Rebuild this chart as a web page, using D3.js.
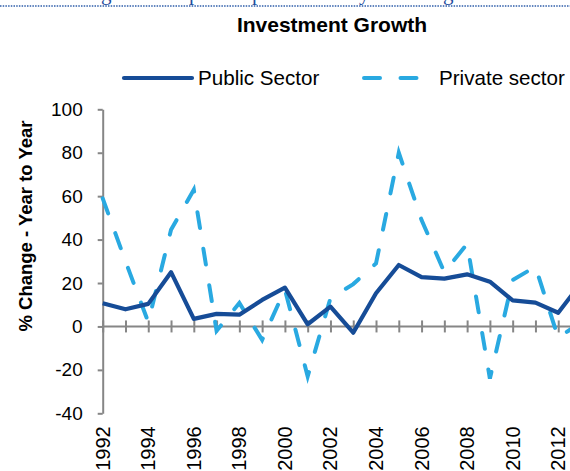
<!DOCTYPE html>
<html>
<head>
<meta charset="utf-8">
<style>
  body { margin: 0; background: #fff; }
  svg { display: block; font-family: "Liberation Sans", Arial, sans-serif; }
  .axis .domain { stroke: #868686; stroke-width: 2; }
  .axis line { stroke: #868686; stroke-width: 2; }
  .axis text { fill: #000; font-size: 19px; }
</style>
</head>
<body>
<svg width="570" height="471"></svg>
<script src="https://d3js.org/d3.v7.min.js"></script>
<script>
// values (% change, year on year)
var years = d3.range(1992, 2014);
var publicSector = [10.7, 7.9, 10.4, 25, 3.5, 5.8, 5.4, 12.2, 17.9, 1, 9.1, -2.9,
                    15.3, 28.3, 22.7, 22, 24, 20.6, 12, 11, 6.3, 20];
var privateSector = [59, 30, 2, 44.5, 63, -2, 10.8, -6.2, 17, -23, 13, 19.5,
                     29, 80, 49, 25, 38, -24, 21.4, 27.5, -5.3, 2];
var yTicks = [-40, -20, 0, 20, 40, 60, 80, 100];
var xLabelYears = d3.range(1992, 2014, 2);
var seriesNames = ["Public Sector", "Private sector"];

var svg = d3.select("svg");

// cut-off heading from the page above the chart
svg.append("line")
    .attr("x1", 0).attr("x2", 570).attr("y1", 6).attr("y2", 6)
    .attr("stroke", "#2f5ea9").attr("stroke-width", 1.5)
    .attr("stroke-dasharray", "1.5,1.2");
var frag = svg.append("g")
    .attr("font-family", "Liberation Serif, serif")
    .attr("font-size", 21)
    .attr("fill", "#1f4e9e");
[["g", 101], ["p", 189], ["p", 252], ["y", 359], ["g", 443]].forEach(function(f) {
  frag.append("text").attr("x", f[1]).attr("y", 0).text(f[0]);
});

var x = d3.scaleLinear()
    .domain([1992, 2013])
    .range([102.7, 581]);

var y = d3.scaleLinear()
    .domain([-40, 100])
    .range([413.3, 109.3]);

// title
svg.append("text")
    .attr("x", 332).attr("y", 32)
    .attr("text-anchor", "middle")
    .attr("font-size", 21)
    .attr("font-weight", "bold")
    .text("Investment Growth");

// y axis
svg.append("g")
    .attr("class", "axis")
    .attr("transform", "translate(" + x(1992) + ",0)")
    .call(d3.axisLeft(y).tickValues(yTicks).tickSize(5).tickSizeOuter(0).tickPadding(15)
      .tickFormat(function(d) { return String(d); }));

// x axis along zero
var xAxis = svg.append("g")
    .attr("class", "axis")
    .attr("transform", "translate(0," + y(0) + ")")
    .call(d3.axisBottom(x).tickValues(years).tickSize(6).tickSizeOuter(0).tickFormat(""));
xAxis.select(".domain").attr("d", "M" + x(1992) + ",0H" + x(2013.5));
xAxis.selectAll(".tick line").attr("y1", -6);

// x labels at bottom, rotated
svg.append("g")
    .attr("font-size", 20)
    .selectAll("text")
    .data(xLabelYears)
    .enter().append("text")
      .attr("transform", function(d) { return "translate(" + x(d) + "," + (y(-40) + 13) + ") rotate(-90)"; })
      .attr("text-anchor", "end")
      .attr("dy", "0.35em")
      .text(function(d) { return d; });

// y label
svg.append("text")
    .attr("transform", "translate(26," + 226 + ") rotate(-90)")
    .attr("text-anchor", "middle")
    .attr("dy", "0.35em")
    .attr("font-size", 18.5)
    .attr("font-weight", "bold")
    .text("% Change - Year to Year");

var line = d3.line()
    .x(function(d, i) { return x(years[i]); })
    .y(function(d) { return y(d); });

svg.append("path")
    .datum(privateSector)
    .attr("fill", "none")
    .attr("stroke", "#29a9e1")
    .attr("stroke-width", 4)
    .attr("stroke-linecap", "round")
    .attr("stroke-dasharray", "16,21")
    .attr("d", line);

svg.append("path")
    .datum(publicSector)
    .attr("fill", "none")
    .attr("stroke", "#164c97")
    .attr("stroke-width", 4.2)
    .attr("stroke-linejoin", "round")
    .attr("d", line);

// legend
var legend = svg.append("g").attr("font-size", 20.6);
legend.append("line")
    .attr("x1", 124).attr("x2", 192).attr("y1", 78).attr("y2", 78)
    .attr("stroke", "#164c97").attr("stroke-width", 4.2).attr("stroke-linecap", "round");
legend.append("text").attr("x", 198).attr("y", 85).text(seriesNames[0]);
legend.append("line")
    .attr("x1", 364).attr("x2", 420).attr("y1", 78).attr("y2", 78)
    .attr("stroke", "#29a9e1").attr("stroke-width", 4).attr("stroke-linecap", "round")
    .attr("stroke-dasharray", "16,20.5");
legend.append("text").attr("x", 439).attr("y", 85).text(seriesNames[1]);
</script>
</body>
</html>
